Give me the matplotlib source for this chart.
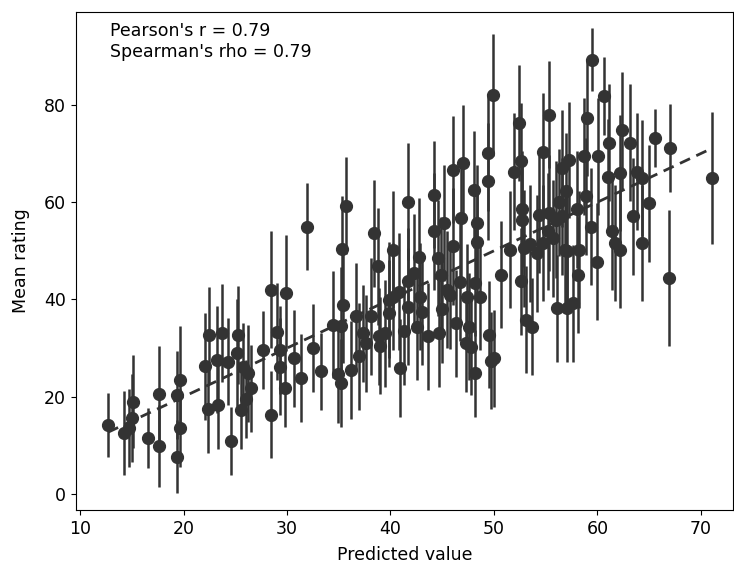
import numpy as np
import matplotlib
matplotlib.use("Agg")
import matplotlib.pyplot as plt

# predicted value, mean rating, error (half-width)
predicted = [
    12.7, 14.2, 14.7, 15.0, 15.1, 16.6, 17.6, 17.6, 19.4, 19.4,
    19.7, 19.7, 22.05, 22.4, 22.5, 23.2, 23.3, 23.7, 24.3, 24.6,
    25.2, 25.3, 25.6, 25.7, 26.2, 26.55, 26.0, 27.7, 28.5, 28.5,
    29.0, 29.3, 29.3, 29.8, 29.9, 30.7, 31.4, 31.9, 32.5, 33.3,
    34.4, 35.2, 35.2, 34.9, 35.3, 35.4, 35.7, 36.2, 36.7, 37.0,
    37.6, 38.1, 38.4, 38.8, 38.9, 39.5, 39.9, 39.9, 40.2, 40.2,
    40.8, 40.9, 41.7, 41.7, 41.7, 42.6, 42.8, 42.9, 43.6, 44.2,
    44.2, 44.6, 44.7, 45.2, 45.8, 46.0, 46.0, 46.3, 46.8, 47.0,
    47.3, 47.6, 47.8, 48.1, 48.2, 48.2, 48.4, 48.4, 48.7, 49.4,
    49.4, 49.5, 49.7, 50.0, 50.7, 51.6, 51.9, 52.4, 52.6, 52.6,
    52.7, 52.7, 52.9, 53.1, 53.5, 53.7, 54.2, 54.4, 54.7, 54.7,
    55.2, 55.3, 55.3, 55.7, 56.0, 56.1, 56.6, 56.6, 56.9, 57.0,
    57.1, 57.1, 57.3, 57.6, 58.1, 58.2, 58.7, 58.9, 59.0, 59.4,
    59.5, 60.0, 60.1, 60.6, 61.0, 61.1, 61.4, 61.7, 62.2, 62.2,
    62.4, 63.2, 63.4, 63.8, 64.3, 64.3, 65.0, 65.6, 66.9, 67.05,
    71.1, 49.9, 43.0, 45.0, 46.7, 47.4, 42.3, 44.9, 39.0, 41.3,
    37.3, 45.5, 58.0, 56.3,
]
rating = [
    14.2, 12.5, 13.5, 15.6, 19.0, 11.5, 20.5, 9.9, 20.4, 7.7,
    23.5, 13.5, 26.3, 17.5, 32.6, 27.6, 18.2, 33.1, 27.2, 10.8,
    29.0, 32.7, 17.3, 26.2, 24.8, 21.7, 19.5, 29.6, 42.0, 16.3,
    33.4, 29.6, 26.2, 21.7, 41.3, 27.9, 23.8, 55.0, 30.0, 25.2,
    34.8, 34.6, 22.8, 24.6, 50.3, 38.9, 59.3, 25.5, 36.5, 28.3,
    31.0, 36.5, 53.6, 46.8, 32.4, 33.1, 39.9, 37.2, 50.2, 40.6,
    41.6, 25.9, 60.1, 43.7, 38.5, 34.4, 48.8, 40.6, 32.4, 61.5,
    54.0, 48.5, 33.1, 55.7, 40.9, 50.9, 66.7, 35.1, 56.7, 68.0,
    31.0, 34.4, 30.3, 62.6, 43.4, 24.8, 55.7, 51.9, 40.6, 70.1,
    64.3, 32.7, 27.4, 27.9, 45.1, 50.2, 66.3, 76.3, 68.4, 43.7,
    58.6, 56.4, 50.5, 35.8, 51.5, 34.4, 49.5, 57.4, 70.4, 51.6,
    54.0, 78.0, 57.8, 52.6, 56.4, 38.2, 67.0, 57.1, 50.2, 62.2,
    49.9, 38.2, 68.7, 39.2, 45.0, 50.2, 69.4, 61.2, 77.3, 55.0,
    89.3, 47.8, 69.4, 81.8, 65.2, 72.2, 54.0, 51.6, 50.2, 66.0,
    74.8, 72.2, 57.1, 66.3, 65.0, 51.6, 59.8, 73.2, 44.4, 71.1,
    65.0, 82.0, 37.5, 38.0, 43.5, 40.5, 45.5, 45.0, 30.5, 33.5,
    33.0, 42.0, 58.5, 60.0,
]
error = [
    6.5, 8.7, 8.0, 9.0, 9.5, 6.2, 10.0, 8.4, 9.0, 7.5,
    11.0, 8.0, 11.0, 9.0, 10.0, 11.0, 9.0, 10.0, 9.0, 7.0,
    11.0, 10.0, 8.0, 9.0, 10.0, 9.0, 8.0, 8.0, 12.0, 9.0,
    10.0, 9.0, 10.0, 8.0, 12.0, 10.0, 9.0, 9.0, 9.0, 8.0,
    11.0, 12.0, 9.0, 10.0, 11.0, 12.0, 10.0, 10.0, 11.0, 11.0,
    10.0, 12.0, 11.0, 12.0, 10.0, 11.0, 12.0, 11.0, 12.0, 11.0,
    12.0, 10.0, 12.0, 11.0, 12.0, 11.0, 12.0, 11.0, 11.0, 11.0,
    12.0, 12.0, 11.0, 12.0, 11.0, 12.0, 11.0, 11.0, 12.0, 12.0,
    10.0, 11.0, 10.0, 12.0, 11.0, 9.0, 12.0, 11.0, 11.0, 12.0,
    12.0, 11.0, 10.0, 10.0, 11.0, 12.0, 12.0, 12.0, 12.0, 11.0,
    12.0, 12.0, 12.0, 11.0, 12.0, 10.0, 12.0, 12.0, 12.0, 12.0,
    12.0, 11.0, 12.0, 12.0, 12.0, 11.0, 12.0, 12.0, 12.0, 12.0,
    12.0, 11.0, 12.0, 12.0, 12.0, 12.0, 12.0, 12.0, 12.0, 12.0,
    6.5, 12.0, 12.0, 8.0, 12.0, 12.0, 12.0, 12.0, 12.0, 12.0,
    12.0, 12.0, 12.0, 12.0, 12.0, 12.0, 12.0, 6.0, 14.0, 9.0,
    13.5, 12.5, 11.0, 11.0, 12.0, 11.0, 12.0, 12.0, 10.0, 11.0,
    10.0, 12.0, 12.0, 11.0,
]

fig = plt.figure(figsize=(7.34, 5.65), dpi=100)
ax = fig.add_axes([0.1035, 0.0973, 0.895, 0.8814])

dark = "#333333"
x = np.array(predicted)
ax.errorbar(predicted, rating, yerr=error, fmt="o", color=dark,
            ecolor=dark, elinewidth=1.8, markersize=8.5, capsize=0)

# identity line across the range of predictions
lo, hi = x.min(), x.max()
ax.plot([lo, hi], [lo, hi], ls="--", color=dark, lw=2, dashes=(4, 2.5))

ax.set_xlim(9.6, 73.1)
ax.set_ylim(-3.3, 99.1)
ax.set_xticks([10, 20, 30, 40, 50, 60, 70])
ax.set_yticks([0, 20, 40, 60, 80])
ax.tick_params(labelsize=12.5)
ax.set_xlabel("Predicted value", fontsize=12.5, labelpad=6)
ax.set_ylabel("Mean rating", fontsize=12.5, labelpad=10)

ax.text(0.052, 0.98, "Pearson's r = 0.79\nSpearman's rho = 0.79",
        transform=ax.transAxes, va="top", ha="left", fontsize=12.5)

fig.savefig("out.png", dpi=100)
